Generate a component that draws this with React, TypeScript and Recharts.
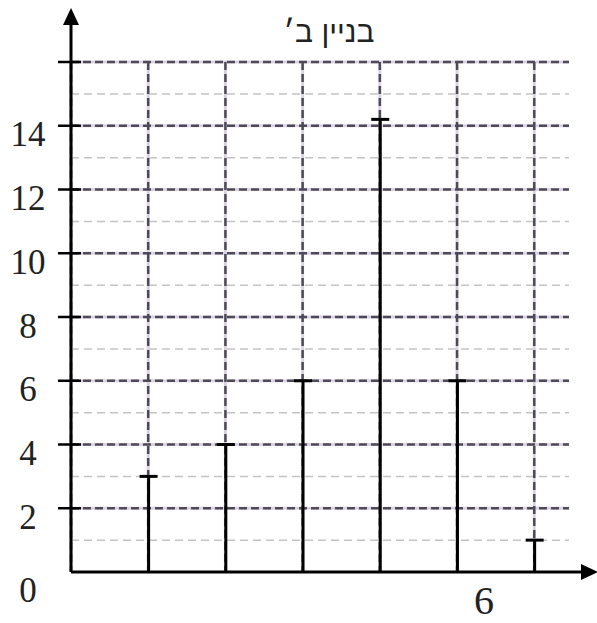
import React from 'react';
import {
  ComposedChart,
  Bar,
  XAxis,
  YAxis,
  CartesianGrid,
  ReferenceLine,
  ReferenceDot,
} from 'recharts';

// values
const categories = [1, 2, 3, 4, 5, 6];
const counts = [3, 4, 6, 14.2, 6, 1];
const yTicks = [0, 2, 4, 6, 8, 10, 12, 14, 16];
const yTickLabels = ['0', '2', '4', '6', '8', '10', '12', '14', ''];
const majorLines = [2, 4, 6, 8, 10, 12, 14, 16];
const minorLines = [1, 3, 5, 7, 9, 11, 13, 15];
const verticalLines = [0, 1, 2, 3, 4, 5, 6];
const xLabelPos = [5.35];
const xLabelText = ['6'];
const title = 'בניין ב׳';

const X_MAX = 6.45;
const Y_MAX = 16;

const data = categories.map((c, i) => ({ x: c, v: counts[i] }));

const StemShape = (props: any) => {
  const { x, y, width, height } = props;
  const cx = x + width / 2;
  return (
    <g>
      <line x1={cx} x2={cx} y1={y} y2={y + height + 11} stroke="#000" strokeWidth={3} />
      <line x1={cx - 9} x2={cx + 9} y1={y} y2={y} stroke="#000" strokeWidth={3} />
    </g>
  );
};

const YTick = (props: any) => {
  const { x, y, payload, index } = props;
  const isZero = payload.value === 0;
  return (
    <g>
      {!isZero && <line x1={x - 13} x2={x + 10} y1={y} y2={y} stroke="#000" strokeWidth={2.5} />}
      <text
        x={28}
        y={isZero ? y + 18 : y + 9}
        textAnchor="middle"
        dominantBaseline="central"
        fontFamily="Liberation Serif"
        fontSize={35}
        fill="#222"
      >
        {yTickLabels[index]}
      </text>
    </g>
  );
};

const XTick = (props: any) => {
  const { x, y, index } = props;
  return (
    <text
      x={x}
      y={y + 20}
      textAnchor="middle"
      dominantBaseline="central"
      fontFamily="Liberation Serif"
      fontSize={40}
      fill="#222"
    >
      {xLabelText[index]}
    </text>
  );
};

// axis extension beyond the grid, ending in an arrowhead
const ArrowUp = (props: any) => {
  const { cx, cy } = props;
  return (
    <g>
      <line x1={cx} x2={cx} y1={cy} y2={cy - 40} stroke="#000" strokeWidth={3} />
      <polygon points={`${cx},${cy - 54} ${cx - 8},${cy - 37} ${cx + 8},${cy - 37}`} fill="#000" />
    </g>
  );
};

const ArrowRight = (props: any) => {
  const { cx, cy } = props;
  return (
    <g>
      <line x1={cx} x2={cx + 14} y1={cy} y2={cy} stroke="#000" strokeWidth={3} />
      <polygon points={`${cx + 29},${cy} ${cx + 12},${cy - 8} ${cx + 12},${cy + 8}`} fill="#000" />
    </g>
  );
};

export default function App() {
  return (
    <div style={{ position: 'absolute', left: 0, top: 0, width: 597, height: 623, background: '#fff' }}>
      <div
        style={{
          position: 'absolute',
          left: 0,
          width: 658,
          top: 17,
          lineHeight: '30px',
          textAlign: 'center',
          fontFamily: 'Liberation Sans',
          fontSize: 30,
          color: '#222',
          direction: 'rtl',
        }}
      >
        {title}
      </div>
      <ComposedChart
        width={597}
        height={623}
        data={data}
        margin={{ top: 62, right: 28, bottom: 0, left: 0 }}
      >
        <CartesianGrid
          vertical={false}
          horizontalValues={minorLines}
          stroke="#c4c4c4"
          strokeWidth={1.5}
          strokeDasharray="8 5"
        />
        <CartesianGrid
          horizontalValues={majorLines}
          verticalValues={verticalLines}
          stroke="#dcd2e4"
          strokeWidth={3}
        />
        <CartesianGrid
          horizontalValues={majorLines}
          verticalValues={verticalLines}
          stroke="#4c4b57"
          strokeWidth={2.5}
          strokeDasharray="8 4"
        />
        <XAxis
          dataKey="x"
          type="number"
          domain={[0, X_MAX]}
          ticks={xLabelPos}
          tick={<XTick />}
          tickLine={false}
          axisLine={false}
          height={51}
          allowDataOverflow
        />
        <YAxis
          type="number"
          domain={[0, Y_MAX]}
          ticks={yTicks}
          tick={<YTick />}
          tickLine={false}
          tickSize={0}
          tickMargin={0}
          axisLine={false}
          width={71}
          allowDataOverflow
        />
        <Bar dataKey="v" barSize={18} shape={<StemShape />} isAnimationActive={false} />
        <ReferenceLine segment={[{ x: 0, y: 0 }, { x: X_MAX, y: 0 }]} stroke="#000" strokeWidth={3} />
        <ReferenceLine segment={[{ x: 0, y: 0 }, { x: 0, y: Y_MAX }]} stroke="#000" strokeWidth={3} />
        <ReferenceDot x={0} y={Y_MAX} r={1} shape={<ArrowUp />} ifOverflow="visible" />
        <ReferenceDot x={X_MAX} y={0} r={1} shape={<ArrowRight />} ifOverflow="visible" />
      </ComposedChart>
    </div>
  );
}
